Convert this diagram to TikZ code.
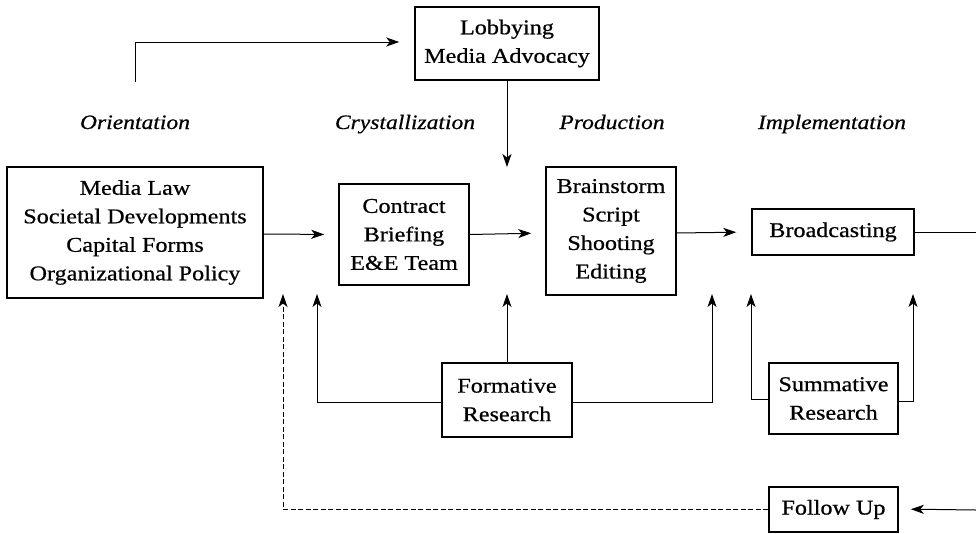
\documentclass[tikz,border=0pt]{standalone}
\usepackage{fontspec}
\setmainfont[FakeStretch=1.15,FakeBold=0.6]{Liberation Serif}
\usetikzlibrary{arrows.meta}
\begin{document}
\begin{tikzpicture}[x=1pt,y=-1pt,
  box/.style={draw, line width=1.5pt, align=center, inner sep=0pt,
    font=\fontsize{21}{28.5}\selectfont},
  phase/.style={anchor=base, inner sep=0pt, font=\fontsize{20.5}{24}\selectfont\itshape},
  link/.style={line width=1pt},
  arr/.style={link, -{Stealth[length=13pt,width=9pt,inset=3.5pt]}},
  fb/.style={arr, dash pattern=on 5pt off 2.5pt}]
\fill[white] (0,0) rectangle (976,533);
\useasboundingbox (0,0) rectangle (976,533);

% process boxes
\node[box, minimum width=184pt, minimum height=73pt] (lobby) at (507,43.5) {Lobbying\\Media Advocacy};
\node[box, minimum width=256pt, minimum height=131pt] (media) at (135,232.5)
  {Media Law\\Societal Developments\\Capital Forms\\Organizational Policy};
\node[box, minimum width=130pt, minimum height=101pt] (contract) at (404,234.5)
  {Contract\\Briefing\\E\&E Team};
\node[box, minimum width=130pt, minimum height=128pt] (brain) at (611,231)
  {Brainstorm\\Script\\Shooting\\Editing};
\node[box, minimum width=162pt, minimum height=46pt] (broad) at (833,232) {Broadcasting};
\node[box, minimum width=130pt, minimum height=74pt] (form) at (507,400) {Formative\\Research};
\node[box, minimum width=129pt, minimum height=71pt] (summ) at (833.5,398.5) {Summative\\Research};
\node[box, minimum width=129pt, minimum height=45pt] (follow) at (833.5,509.5) {Follow Up};

% phase headings
\node[phase] (orient) at (135,129) {Orientation};
\node[phase] (cryst) at (405,129) {Crystallization};
\node[phase] (prod) at (612,129) {Production};
\node[phase] (impl) at (832,129) {Implementation};

% free ends
\coordinate (lobbystart) at (135,82);
\coordinate (lobbyend) at (507,167);
\coordinate (outA) at (976,232);
\coordinate (outB) at (976,510);
\coordinate (fbtip) at (283,294);
\coordinate (f1) at (317,294);
\coordinate (f2) at (507,294);
\coordinate (f3) at (712,294);
\coordinate (s1) at (751,294);
\coordinate (s2) at (913,294);

% main flow
\draw[arr, shorten >=15pt] (lobbystart) |- ([yshift=1.5pt]lobby.west);
\draw[arr] (lobby.south) -- (lobbyend);
\draw[arr, shorten >=14pt] ([yshift=-1.5pt]media.east) -- (contract.west);
\draw[arr, shorten >=14pt] (contract.east) -- ([yshift=-2pt]brain.west);
\draw[arr, shorten >=15pt] ([yshift=-2pt]brain.east) -- (broad.west);
\draw[link] (broad.east) -- (outA);
\draw[arr, shorten >=12pt] (outB) -- ([yshift=0.5pt]follow.east);

% research feedback
\draw[arr] ([yshift=-2pt]form.west) -| (f1);
\draw[arr] (form.north) -- (f2);
\draw[arr] ([yshift=-2pt]form.east) -| (f3);
\draw[arr] ([yshift=-0.5pt]summ.west) -| (s1);
\draw[arr] ([yshift=-2.5pt]summ.east) -| (s2);

% follow-up loop
\draw[fb] ([yshift=0.5pt]follow.west) -| (fbtip);
\end{tikzpicture}
\end{document}
